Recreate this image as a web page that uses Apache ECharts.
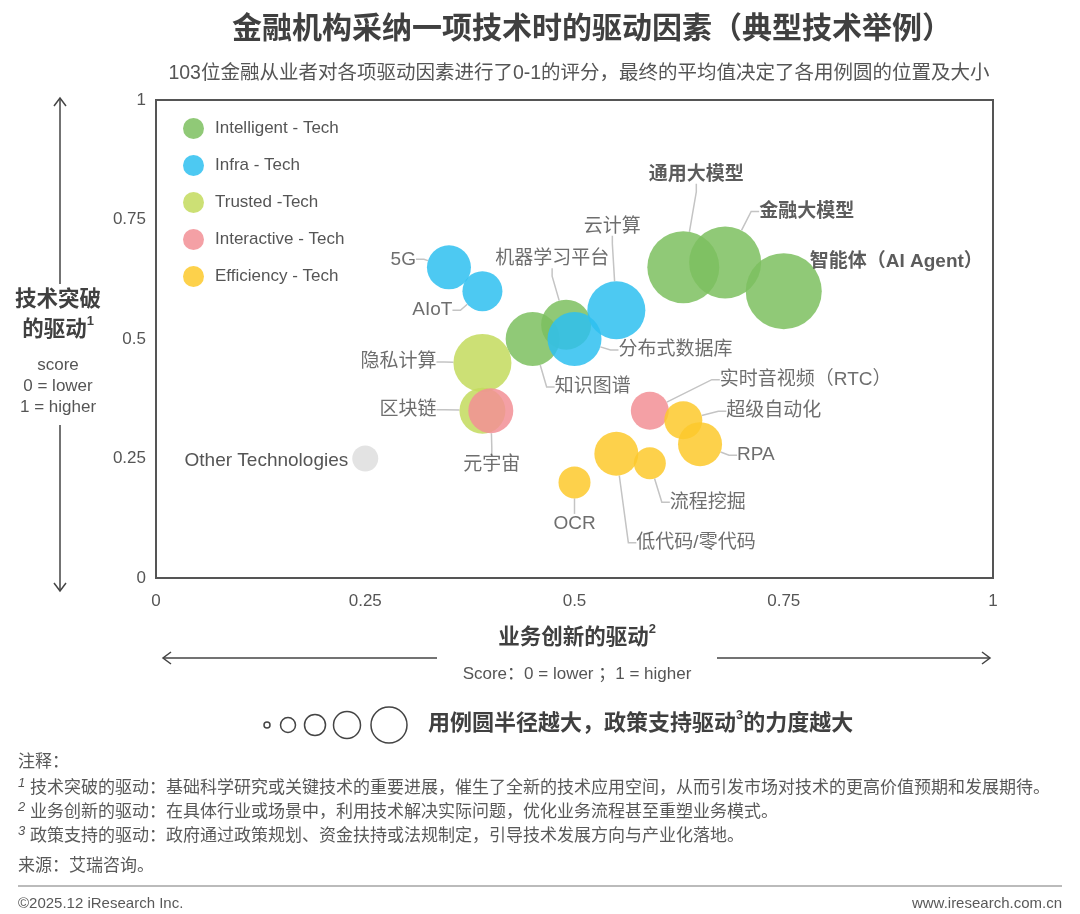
<!DOCTYPE html>
<html>
<head>
<meta charset="utf-8">
<script src="https://cdn.jsdelivr.net/npm/echarts@6/dist/echarts.min.js"></script>
<style>
html, body { margin: 0; padding: 0; background: #fff; }
#main { width: 1080px; height: 914px; }
</style>
</head>
<body>
<div id="main"></div>
<script>
var FONT = '"Liberation Sans", "Noto Sans CJK SC", sans-serif';

// groups shown in the legend (plus the grey "other" dot)
var groupNames = ['Intelligent - Tech', 'Infra - Tech', 'Trusted -Tech', 'Interactive - Tech', 'Efficiency - Tech', 'Other Technologies'];
var groupColors = ['#7cbf5f', '#2ec0f0', '#c3db5d', '#f28f95', '#fdc92c', '#e3e3e3'];

// x = 业务创新的驱动, y = 技术突破的驱动, size = 政策支持的驱动
var intelligentNames = ['通用大模型', '金融大模型', '智能体（AI Agent）', '机器学习平台', '知识图谱'];
var intelligentX = [0.63, 0.68, 0.75, 0.49, 0.45];
var intelligentY = [0.65, 0.66, 0.60, 0.53, 0.50];
var intelligentSize = [0.72, 0.72, 0.76, 0.50, 0.54];

var infraNames = ['5G', 'AIoT', '云计算', '分布式数据库'];
var infraX = [0.35, 0.39, 0.55, 0.50];
var infraY = [0.65, 0.60, 0.56, 0.50];
var infraSize = [0.44, 0.40, 0.58, 0.54];

var trustedNames = ['隐私计算', '区块链'];
var trustedX = [0.39, 0.39];
var trustedY = [0.45, 0.35];
var trustedSize = [0.58, 0.46];

var interactiveNames = ['元宇宙', '实时音视频（RTC）'];
var interactiveX = [0.40, 0.59];
var interactiveY = [0.35, 0.35];
var interactiveSize = [0.45, 0.38];

var efficiencyNames = ['超级自动化', 'RPA', '低代码/零代码', '流程挖掘', 'OCR'];
var efficiencyX = [0.63, 0.65, 0.55, 0.59, 0.50];
var efficiencyY = [0.33, 0.28, 0.26, 0.24, 0.20];
var efficiencySize = [0.38, 0.44, 0.44, 0.32, 0.32];

var otherNames = ['Other Technologies'];
var otherX = [0.25];
var otherY = [0.25];
var otherSize = [0.26];

var axisTicks = [0, 0.25, 0.5, 0.75, 1];

// label placement relative to bubble centre: [dx, dy, align, leader line]
var labelPos = {
    '通用大模型': [13, -93, 'center', true],
    '金融大模型': [34, -51, 'left', true],
    '智能体（AI Agent）': [26, -29, 'left', false],
    '机器学习平台': [-14, -66, 'center', true],
    '知识图谱': [22, 48, 'left', true],
    '5G': [-33, -8, 'right', true],
    'AIoT': [-30, 19, 'right', true],
    '云计算': [-4, -84, 'center', true],
    '分布式数据库': [44, 11, 'left', true],
    '隐私计算': [-46, -1, 'right', true],
    '区块链': [-46, -1, 'right', true],
    '元宇宙': [1, 54, 'center', true],
    '实时音视频（RTC）': [70, -31, 'left', true],
    '超级自动化': [43, -9, 'left', true],
    'RPA': [37, 11, 'left', true],
    '低代码/零代码': [20, 89, 'left', true],
    '流程挖掘': [20, 39, 'left', true],
    'OCR': [0, 41, 'center', true],
    'Other Technologies': [-17, 2, 'right', false]
};
var boldLabels = ['通用大模型', '金融大模型', '智能体（AI Agent）'];

var groupData = [
    [intelligentNames, intelligentX, intelligentY, intelligentSize],
    [infraNames, infraX, infraY, infraSize],
    [trustedNames, trustedX, trustedY, trustedSize],
    [interactiveNames, interactiveX, interactiveY, interactiveSize],
    [efficiencyNames, efficiencyX, efficiencyY, efficiencySize],
    [otherNames, otherX, otherY, otherSize]
];

var series = groupData.map(function (g, gi) {
    var data = g[0].map(function (name, i) {
        var item = { name: name, value: [g[1][i], g[2][i], g[3][i]] };
        if (boldLabels.indexOf(name) >= 0) {
            item.label = { fontWeight: 'bold', color: '#404040' };
        }
        if (!labelPos[name][3]) {
            item.labelLine = { show: false };
        }
        return item;
    });
    return {
        name: groupNames[gi],
        type: 'scatter',
        data: data,
        symbol: 'circle',
        symbolSize: function (v) { return v[2] * 100; },
        itemStyle: { color: groupColors[gi], opacity: gi === 5 ? 1 : 0.85 },
        label: {
            show: true,
            formatter: '{b}',
            fontSize: 19,
            fontFamily: FONT,
            color: '#555'
        },
        labelLine: {
            show: true,
            length2: 8,
            lineStyle: { color: '#c4c4c4', width: 1.5 }
        },
        labelLayout: function (p) {
            var o = labelPos[p.text];
            if (!o) return {};
            return {
                x: p.rect.x + p.rect.width / 2 + o[0],
                y: p.rect.y + p.rect.height / 2 + o[1],
                align: o[2],
                verticalAlign: 'middle'
            };
        },
        emphasis: { disabled: true }
    };
});

var supRich = function (size, bold) {
    return {
        a: { fontSize: size, fontWeight: bold ? 'bold' : 'normal', fontFamily: FONT, fill: '#404040', lineHeight: 30 },
        s: { fontSize: 13, fontWeight: 'bold', fontFamily: FONT, fill: '#404040', lineHeight: 14, verticalAlign: 'top' }
    };
};

var noteRich = {
    n: { fontSize: 13, fontStyle: 'italic', fontFamily: FONT, fill: '#555', lineHeight: 12, verticalAlign: 'top' },
    t: { fontSize: 17, fontFamily: FONT, fill: '#595959', lineHeight: 22 }
};

var graphics = [
    { type: 'text', x: 592, y: 30, style: { text: '金融机构采纳一项技术时的驱动因素（典型技术举例）', fontSize: 30, fontWeight: 'bold', fontFamily: FONT, fill: '#404040', align: 'center', verticalAlign: 'middle' } },
    { type: 'text', x: 579, y: 74, style: { text: '103位金融从业者对各项驱动因素进行了0-1的评分，最终的平均值决定了各用例圆的位置及大小', fontSize: 19.5, fontFamily: FONT, fill: '#555', align: 'center', verticalAlign: 'middle' } },

    // y axis name and arrows
    { type: 'text', x: 58, y: 315, style: { text: '{a|技术突破}\n{a|的驱动}{s|1}', rich: supRich(21.5, true), align: 'center', verticalAlign: 'middle' } },
    { type: 'text', x: 58, y: 386, style: { text: 'score\n0 = lower\n1 = higher', fontSize: 17, lineHeight: 21, fontFamily: FONT, fill: '#555', align: 'center', verticalAlign: 'middle' } },
    { type: 'polyline', shape: { points: [[60, 284], [60, 98]] }, style: { stroke: '#444', lineWidth: 1.5, fill: null } },
    { type: 'polyline', shape: { points: [[54, 106], [60, 98], [66, 106]] }, style: { stroke: '#444', lineWidth: 1.5, fill: null } },
    { type: 'polyline', shape: { points: [[60, 425], [60, 591]] }, style: { stroke: '#444', lineWidth: 1.5, fill: null } },
    { type: 'polyline', shape: { points: [[54, 583], [60, 591], [66, 583]] }, style: { stroke: '#444', lineWidth: 1.5, fill: null } },

    // x axis name and arrows
    { type: 'text', x: 577, y: 638, style: { text: '{a|业务创新的驱动}{s|2}', rich: supRich(21.5, true), align: 'center', verticalAlign: 'middle' } },
    { type: 'polyline', shape: { points: [[163, 658], [437, 658]] }, style: { stroke: '#444', lineWidth: 1.5, fill: null } },
    { type: 'polyline', shape: { points: [[171, 652], [163, 658], [171, 664]] }, style: { stroke: '#444', lineWidth: 1.5, fill: null } },
    { type: 'polyline', shape: { points: [[717, 658], [990, 658]] }, style: { stroke: '#444', lineWidth: 1.5, fill: null } },
    { type: 'polyline', shape: { points: [[982, 652], [990, 658], [982, 664]] }, style: { stroke: '#444', lineWidth: 1.5, fill: null } },
    { type: 'text', x: 577, y: 674, style: { text: 'Score：0 = lower ；1 = higher', fontSize: 17, fontFamily: FONT, fill: '#555', align: 'center', verticalAlign: 'middle' } },

    // bubble size key
    { type: 'circle', shape: { cx: 267, cy: 725, r: 3 }, style: { fill: null, stroke: '#444', lineWidth: 1.5 } },
    { type: 'circle', shape: { cx: 288, cy: 725, r: 7.5 }, style: { fill: null, stroke: '#444', lineWidth: 1.5 } },
    { type: 'circle', shape: { cx: 315, cy: 725, r: 10.5 }, style: { fill: null, stroke: '#444', lineWidth: 1.5 } },
    { type: 'circle', shape: { cx: 347, cy: 725, r: 13.5 }, style: { fill: null, stroke: '#444', lineWidth: 1.5 } },
    { type: 'circle', shape: { cx: 389, cy: 725, r: 18 }, style: { fill: null, stroke: '#444', lineWidth: 1.5 } },
    { type: 'text', x: 428, y: 724, style: { text: '{a|用例圆半径越大，政策支持驱动}{s|3}{a|的力度越大}', rich: supRich(22, true), align: 'left', verticalAlign: 'middle' } },

    // notes
    { type: 'text', x: 18, y: 762, style: { text: '注释：', fontSize: 17, fontFamily: FONT, fill: '#595959', verticalAlign: 'middle' } },
    { type: 'text', x: 18, y: 788, style: { text: '{n|1}{t| 技术突破的驱动：基础科学研究或关键技术的重要进展，催生了全新的技术应用空间，从而引发市场对技术的更高价值预期和发展期待。}', rich: noteRich, verticalAlign: 'middle' } },
    { type: 'text', x: 18, y: 812, style: { text: '{n|2}{t| 业务创新的驱动：在具体行业或场景中，利用技术解决实际问题，优化业务流程甚至重塑业务模式。}', rich: noteRich, verticalAlign: 'middle' } },
    { type: 'text', x: 18, y: 836, style: { text: '{n|3}{t| 政策支持的驱动：政府通过政策规划、资金扶持或法规制定，引导技术发展方向与产业化落地。}', rich: noteRich, verticalAlign: 'middle' } },
    { type: 'text', x: 18, y: 866, style: { text: '来源：艾瑞咨询。', fontSize: 17, fontFamily: FONT, fill: '#595959', verticalAlign: 'middle' } },
    { type: 'line', shape: { x1: 18, y1: 886, x2: 1062, y2: 886 }, style: { stroke: '#bbb', lineWidth: 2 } },
    { type: 'text', x: 18, y: 904, style: { text: '©2025.12 iResearch Inc.', fontSize: 15, fontFamily: FONT, fill: '#595959', verticalAlign: 'middle' } },
    { type: 'text', x: 1062, y: 904, style: { text: 'www.iresearch.com.cn', fontSize: 15, fontFamily: FONT, fill: '#595959', align: 'right', verticalAlign: 'middle' } }
];

var option = {
    backgroundColor: '#fff',
    animation: false,
    textStyle: { fontFamily: FONT },
    grid: {
        left: 156, top: 100, width: 837, height: 478,
        show: true, borderColor: '#555', borderWidth: 2, backgroundColor: 'transparent'
    },
    legend: {
        data: groupNames.slice(0, 5),
        orient: 'vertical',
        left: 178,
        top: 113,
        icon: 'circle',
        itemWidth: 21,
        itemHeight: 21,
        itemGap: 16,
        selectedMode: false,
        textStyle: { fontSize: 17, color: '#555', fontFamily: FONT, padding: [0, 0, 0, 6] }
    },
    xAxis: {
        type: 'value',
        min: axisTicks[0], max: axisTicks[axisTicks.length - 1], interval: 0.25,
        axisLine: { show: false }, axisTick: { show: false }, splitLine: { show: false },
        axisLabel: { fontSize: 17, color: '#555', margin: 15, formatter: function (v) { return String(v); } }
    },
    yAxis: {
        type: 'value',
        min: axisTicks[0], max: axisTicks[axisTicks.length - 1], interval: 0.25,
        axisLine: { show: false }, axisTick: { show: false }, splitLine: { show: false },
        axisLabel: { fontSize: 17, color: '#555', margin: 10, formatter: function (v) { return String(v); } }
    },
    graphic: graphics,
    series: series
};

var chart = echarts.init(document.getElementById('main'));
chart.setOption(option);
</script>
</body>
</html>
